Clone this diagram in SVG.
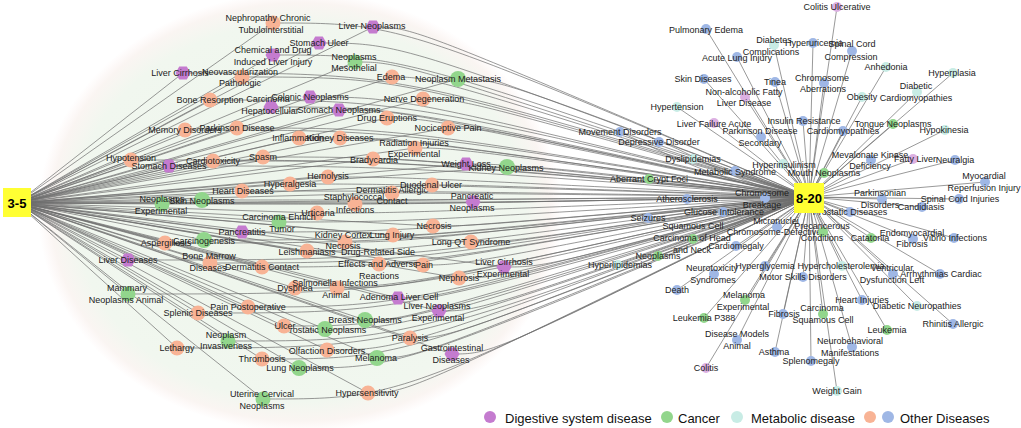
<svg xmlns="http://www.w3.org/2000/svg" xmlns:xlink="http://www.w3.org/1999/xlink" width="1021" height="428" viewBox="0 0 1021 428">
<style>
.e{fill:none;stroke:#6e6e6e;stroke-width:1;stroke-opacity:0.7}
.o{fill:#f8b395}.g{fill:#92d68c}.p{fill:#c47bcf}.pl{fill:#dcb0e2}.t{fill:#c8ece5}.b{fill:#9fb7e5}
text{font-family:"Liberation Sans",Arial,sans-serif;font-size:9px;fill:#222;text-anchor:middle;dominant-baseline:central}
.lg{font-size:13px;text-anchor:start;fill:#111}
.hub{fill:#ffff33}
.ht{font-size:13px;font-weight:bold;fill:#000}
</style>
<defs>
<radialGradient id="bg" cx="0.5" cy="0.5" r="0.5">
<stop offset="0" stop-color="#edf5eb"/>
<stop offset="0.86" stop-color="#f1f7ef"/>
<stop offset="0.95" stop-color="#faf5f2"/>
<stop offset="1" stop-color="#fdf4f3" stop-opacity="0"/>
</radialGradient>
<polygon id="hex" points="7.5,0 3.75,6.5 -3.75,6.5 -7.5,0 -3.75,-6.5 3.75,-6.5"/>
</defs>
<rect width="1021" height="428" fill="#fff"/>
<ellipse id="cluster-bg" cx="300" cy="212" rx="262" ry="220" fill="url(#bg)"/>
<g id="connectors">
<path class="e" d="M17 203C300 203 600 197 809 197"/>
<path class="e" d="M17 203L273 23"/><path class="e" d="M273 23C400 23 400 23 809 197"/>
<path class="e" d="M17 203L183 73"/><path class="e" d="M183 73C400 73 400 73 809 197"/>
<path class="e" d="M17 203L273 55"/><path class="e" d="M273 55C400 55 400 55 809 197"/>
<path class="e" d="M17 203L242 77"/><path class="e" d="M242 77C400 77 400 77 809 197"/>
<path class="e" d="M17 203L210 100"/><path class="e" d="M210 100C400 100 400 100 809 197"/>
<path class="e" d="M17 203L271 107"/><path class="e" d="M271 107C400 107 400 107 809 197"/>
<path class="e" d="M17 203L185 130"/><path class="e" d="M185 130C400 130 400 130 809 197"/>
<path class="e" d="M17 203L237 128"/><path class="e" d="M237 128C400 128 400 128 809 197"/>
<path class="e" d="M17 203L131 160"/><path class="e" d="M131 160C400 160 400 160 809 197"/>
<path class="e" d="M17 203L169 166"/><path class="e" d="M169 166C400 166 400 166 809 197"/>
<path class="e" d="M17 203L213 161"/><path class="e" d="M213 161C400 161 400 161 809 197"/>
<path class="e" d="M17 203L263 157"/><path class="e" d="M263 157C400 157 400 157 809 197"/>
<path class="e" d="M17 203L242 191"/><path class="e" d="M242 191C400 191 400 191 809 197"/>
<path class="e" d="M17 203L162 204"/><path class="e" d="M162 204C400 204 400 204 809 197"/>
<path class="e" d="M17 203L202 200"/><path class="e" d="M202 200C400 200 400 200 809 197"/>
<path class="e" d="M17 203L373 27"/><path class="e" d="M373 27C413 27 413 27 809 197"/>
<path class="e" d="M17 203L319 43"/><path class="e" d="M319 43C400 43 400 43 809 197"/>
<path class="e" d="M17 203L355 62"/><path class="e" d="M355 62C400 62 400 62 809 197"/>
<path class="e" d="M17 203L392 77"/><path class="e" d="M392 77C432 77 432 77 809 197"/>
<path class="e" d="M17 203L458 79"/><path class="e" d="M458 79C498 79 498 79 809 197"/>
<path class="e" d="M17 203L310 97"/><path class="e" d="M310 97C400 97 400 97 809 197"/>
<path class="e" d="M17 203L339 110"/><path class="e" d="M339 110C400 110 400 110 809 197"/>
<path class="e" d="M17 203L423 99"/><path class="e" d="M423 99C463 99 463 99 809 197"/>
<path class="e" d="M17 203L387 118"/><path class="e" d="M387 118C427 118 427 118 809 197"/>
<path class="e" d="M17 203L448 128"/><path class="e" d="M448 128C488 128 488 128 809 197"/>
<path class="e" d="M17 203L299 138"/><path class="e" d="M299 138C400 138 400 138 809 197"/>
<path class="e" d="M17 203L340 138"/><path class="e" d="M340 138C400 138 400 138 809 197"/>
<path class="e" d="M17 203L415 148"/><path class="e" d="M415 148C455 148 455 148 809 197"/>
<path class="e" d="M17 203L373 159"/><path class="e" d="M373 159C413 159 413 159 809 197"/>
<path class="e" d="M17 203L466 164"/><path class="e" d="M466 164C506 164 506 164 809 197"/>
<path class="e" d="M17 203L507 167"/><path class="e" d="M507 167C547 167 547 167 809 197"/>
<path class="e" d="M17 203L328 177"/><path class="e" d="M328 177C400 177 400 177 809 197"/>
<path class="e" d="M17 203L290 184"/><path class="e" d="M290 184C400 184 400 184 809 197"/>
<path class="e" d="M17 203L392 193"/><path class="e" d="M392 193C432 193 432 193 809 197"/>
<path class="e" d="M17 203L432 185"/><path class="e" d="M432 185C472 185 472 185 809 197"/>
<path class="e" d="M17 203L355 204"/><path class="e" d="M355 204C400 204 400 204 809 197"/>
<path class="e" d="M17 203L473 202"/><path class="e" d="M473 202C513 202 513 202 809 197"/>
<path class="e" d="M17 203L317 213"/><path class="e" d="M317 213C400 213 400 213 809 197"/>
<path class="e" d="M17 203L279 222"/><path class="e" d="M279 222C400 222 400 222 809 197"/>
<path class="e" d="M17 203L242 232"/><path class="e" d="M242 232C400 232 400 232 809 197"/>
<path class="e" d="M17 203L165 243"/><path class="e" d="M165 243C400 243 400 243 809 197"/>
<path class="e" d="M17 203L204 240"/><path class="e" d="M204 240C400 240 400 240 809 197"/>
<path class="e" d="M17 203L128 260"/><path class="e" d="M128 260C400 260 400 260 809 197"/>
<path class="e" d="M17 203L210 263"/><path class="e" d="M210 263C400 263 400 263 809 197"/>
<path class="e" d="M17 203L262 267"/><path class="e" d="M262 267C400 267 400 267 809 197"/>
<path class="e" d="M17 203L128 294"/><path class="e" d="M128 294C400 294 400 294 809 197"/>
<path class="e" d="M17 203L198 313"/><path class="e" d="M198 313C400 313 400 313 809 197"/>
<path class="e" d="M17 203L248 307"/><path class="e" d="M248 307C400 307 400 307 809 197"/>
<path class="e" d="M17 203L228 341"/><path class="e" d="M228 341C400 341 400 341 809 197"/>
<path class="e" d="M17 203L177 348"/><path class="e" d="M177 348C400 348 400 348 809 197"/>
<path class="e" d="M17 203L262 359"/><path class="e" d="M262 359C400 359 400 359 809 197"/>
<path class="e" d="M17 203L263 399"/><path class="e" d="M263 399C400 399 400 399 809 197"/>
<path class="e" d="M17 203L345 242"/><path class="e" d="M345 242C400 242 400 242 809 197"/>
<path class="e" d="M17 203L393 235"/><path class="e" d="M393 235C433 235 433 235 809 197"/>
<path class="e" d="M17 203L307 251"/><path class="e" d="M307 251C400 251 400 251 809 197"/>
<path class="e" d="M17 203L433 226"/><path class="e" d="M433 226C473 226 473 226 809 197"/>
<path class="e" d="M17 203L471 242"/><path class="e" d="M471 242C511 242 511 242 809 197"/>
<path class="e" d="M17 203L379 264"/><path class="e" d="M379 264C419 264 419 264 809 197"/>
<path class="e" d="M17 203L423 265"/><path class="e" d="M423 265C463 265 463 265 809 197"/>
<path class="e" d="M17 203L504 267"/><path class="e" d="M504 267C544 267 544 267 809 197"/>
<path class="e" d="M17 203L459 278"/><path class="e" d="M459 278C499 278 499 278 809 197"/>
<path class="e" d="M17 203L295 288"/><path class="e" d="M295 288C400 288 400 288 809 197"/>
<path class="e" d="M17 203L337 288"/><path class="e" d="M337 288C400 288 400 288 809 197"/>
<path class="e" d="M17 203L398 298"/><path class="e" d="M398 298C438 298 438 298 809 197"/>
<path class="e" d="M17 203L439 311"/><path class="e" d="M439 311C479 311 479 311 809 197"/>
<path class="e" d="M17 203L365 320"/><path class="e" d="M365 320C405 320 405 320 809 197"/>
<path class="e" d="M17 203L284 326"/><path class="e" d="M284 326C400 326 400 326 809 197"/>
<path class="e" d="M17 203L325 329"/><path class="e" d="M325 329C400 329 400 329 809 197"/>
<path class="e" d="M17 203L410 338"/><path class="e" d="M410 338C450 338 450 338 809 197"/>
<path class="e" d="M17 203L327 350"/><path class="e" d="M327 350C400 350 400 350 809 197"/>
<path class="e" d="M17 203L377 358"/><path class="e" d="M377 358C417 358 417 358 809 197"/>
<path class="e" d="M17 203L452 354"/><path class="e" d="M452 354C492 354 492 354 809 197"/>
<path class="e" d="M17 203L299 368"/><path class="e" d="M299 368C400 368 400 368 809 197"/>
<path class="e" d="M17 203L368 393"/><path class="e" d="M368 393C408 393 408 393 809 197"/>
<path class="e" d="M809 197L706 29"/><path class="e" d="M809 197L737 57"/><path class="e" d="M809 197L774 45"/>
<path class="e" d="M809 197L813 43"/><path class="e" d="M809 197L852 51"/><path class="e" d="M809 197L837 7"/>
<path class="e" d="M809 197L704 79"/><path class="e" d="M809 197L775 82"/><path class="e" d="M809 197L824 83"/>
<path class="e" d="M809 197L886 67"/><path class="e" d="M809 197L953 73"/><path class="e" d="M809 197L917 92"/>
<path class="e" d="M809 197L862 97"/><path class="e" d="M809 197L745 97"/><path class="e" d="M809 197L677 107"/>
<path class="e" d="M809 197L714 123"/><path class="e" d="M809 197L803 121"/><path class="e" d="M809 197L761 137"/>
<path class="e" d="M809 197L843 131"/><path class="e" d="M809 197L893 124"/><path class="e" d="M809 197L945 130"/>
<path class="e" d="M809 197C720 185 660 150 620 132"/><path class="e" d="M809 197C730 185 690 150 659 142"/><path class="e" d="M809 197L693 159"/>
<path class="e" d="M809 197L735 171"/><path class="e" d="M809 197L783 164"/><path class="e" d="M809 197L824 173"/>
<path class="e" d="M809 197L871 160"/><path class="e" d="M809 197L913 159"/><path class="e" d="M809 197L955 160"/>
<path class="e" d="M809 197L985 182"/><path class="e" d="M809 197L649 179"/><path class="e" d="M809 197L765 198"/>
<path class="e" d="M809 197L687 199"/><path class="e" d="M809 197L882 199"/><path class="e" d="M809 197L959 199"/>
<path class="e" d="M809 197L922 207"/><path class="e" d="M809 197L850 212"/><path class="e" d="M809 197L723 212"/>
<path class="e" d="M809 197L648 218"/><path class="e" d="M809 197L777 227"/><path class="e" d="M809 197L693 239"/>
<path class="e" d="M809 197L823 232"/><path class="e" d="M809 197L736 246"/><path class="e" d="M809 197L871 238"/>
<path class="e" d="M809 197L913 239"/><path class="e" d="M809 197L954 238"/><path class="e" d="M809 197L658 256"/>
<path class="e" d="M809 197L618 265"/><path class="e" d="M809 197L714 274"/><path class="e" d="M809 197L765 266"/>
<path class="e" d="M809 197L842 266"/><path class="e" d="M809 197L893 274"/><path class="e" d="M809 197L940 274"/>
<path class="e" d="M809 197L803 277"/><path class="e" d="M809 197L677 290"/><path class="e" d="M809 197L745 300"/>
<path class="e" d="M809 197L862 300"/><path class="e" d="M809 197L917 306"/><path class="e" d="M809 197L704 318"/>
<path class="e" d="M809 197L783 314"/><path class="e" d="M809 197L823 314"/><path class="e" d="M809 197L953 324"/>
<path class="e" d="M809 197L887 330"/><path class="e" d="M809 197L737 340"/><path class="e" d="M809 197L852 347"/>
<path class="e" d="M809 197L775 352"/><path class="e" d="M809 197L811 361"/><path class="e" d="M809 197L706 368"/>
<path class="e" d="M809 197L837 391"/>
</g>
<g id="n-nephropathy"><circle class="o" cx="273" cy="23" r="7.5"/><text x="268" y="18">Nephropathy Chronic</text><text x="271" y="30">Tubulointerstitial</text></g>
<g id="n-liver-cirrhosis"><use href="#hex" class="p" x="183" y="73"/><text x="180" y="73">Liver Cirrhosis</text></g>
<g id="n-chem-drug"><use href="#hex" class="p" x="273" y="55"/><text x="273" y="50">Chemical and Drug</text><text x="273" y="62">Induced Liver Injury</text></g>
<g id="n-neovasc"><circle class="o" cx="242" cy="77" r="7.5"/><text x="240" y="72">Neovascularization</text><text x="240" y="83">Pathologic</text></g>
<g id="n-bone-resorption"><circle class="o" cx="210" cy="100" r="7.5"/><text x="210" y="100">Bone Resorption</text></g>
<g id="n-hcc"><use href="#hex" class="p" x="271" y="107"/><text x="268" y="99">Carcinoma</text><text x="270" y="111">Hepatocellular</text></g>
<g id="n-memory"><circle class="o" cx="185" cy="130" r="7.5"/><text x="185" y="130">Memory Disorders</text></g>
<g id="n-parkinson-l"><circle class="o" cx="237" cy="128" r="7.5"/><text x="237" y="128">Parkinson Disease</text></g>
<g id="n-hypotension"><circle class="o" cx="131" cy="160" r="7.5"/><text x="131" y="158">Hypotension</text></g>
<g id="n-stomach-diseases"><use href="#hex" class="p" x="169" y="166"/><text x="169" y="166">Stomach Diseases</text></g>
<g id="n-cardiotox"><circle class="o" cx="213" cy="161" r="7.5"/><text x="213" y="161">Cardiotoxicity</text></g>
<g id="n-spasm"><circle class="o" cx="263" cy="157" r="7.5"/><text x="263" y="157">Spasm</text></g>
<g id="n-heart-diseases"><circle class="o" cx="242" cy="191" r="7.5"/><text x="243" y="191">Heart Diseases</text></g>
<g id="n-neoplasms-exp"><circle class="g" cx="162" cy="204" r="7.5"/><text x="162" y="199">Neoplasms</text><text x="161" y="211">Experimental</text></g>
<g id="n-skin-neoplasms"><circle class="g" cx="202" cy="200" r="8"/><text x="202" y="201">Skin Neoplasms</text></g>
<g id="n-liver-neoplasms"><use href="#hex" class="p" x="373" y="27"/><text x="372" y="26">Liver Neoplasms</text></g>
<g id="n-stomach-ulcer"><use href="#hex" class="p" x="319" y="43"/><text x="319" y="43">Stomach Ulcer</text></g>
<g id="n-neoplasms-meso"><circle class="g" cx="355" cy="62" r="7.5"/><text x="354" y="57">Neoplasms</text><text x="354" y="68">Mesothelial</text></g>
<g id="n-edema"><circle class="o" cx="392" cy="77" r="7.5"/><text x="391" y="77">Edema</text></g>
<g id="n-neo-metastasis"><circle class="g" cx="458" cy="79" r="8"/><text x="458" y="79">Neoplasm Metastasis</text></g>
<g id="n-colonic"><use href="#hex" class="p" x="310" y="97"/><text x="310" y="97">Colonic Neoplasms</text></g>
<g id="n-stomach-neo"><use href="#hex" class="p" x="339" y="110"/><text x="339" y="110">Stomach Neoplasms</text></g>
<g id="n-nerve-degen"><circle class="o" cx="423" cy="99" r="7.5"/><text x="424" y="99">Nerve Degeneration</text></g>
<g id="n-drug-eruptions"><circle class="o" cx="387" cy="118" r="7.5"/><text x="387" y="118">Drug Eruptions</text></g>
<g id="n-nociceptive"><circle class="o" cx="448" cy="128" r="7.5"/><text x="448" y="128">Nociceptive Pain</text></g>
<g id="n-inflammation"><circle class="o" cx="299" cy="138" r="7.5"/><text x="298" y="138">Inflammation</text></g>
<g id="n-kidney-diseases"><circle class="o" cx="340" cy="138" r="7.5"/><text x="340" y="138">Kidney Diseases</text></g>
<g id="n-radiation"><circle class="o" cx="415" cy="148" r="7.5"/><text x="414" y="143">Radiation Injuries</text><text x="414" y="154">Experimental</text></g>
<g id="n-bradycardia"><circle class="o" cx="373" cy="159" r="7.5"/><text x="374" y="160">Bradycardia</text></g>
<g id="n-weight-loss"><use href="#hex" class="p" x="466" y="164"/><text x="466" y="164">Weight Loss</text></g>
<g id="n-kidney-neo"><circle class="g" cx="507" cy="167" r="8"/><text x="506" y="168">Kidney Neoplasms</text></g>
<g id="n-hemolysis"><circle class="o" cx="328" cy="177" r="7.5"/><text x="328" y="176">Hemolysis</text></g>
<g id="n-hyperalgesia"><circle class="o" cx="290" cy="184" r="7.5"/><text x="290" y="184">Hyperalgesia</text></g>
<g id="n-dermatitis-allergic"><circle class="o" cx="392" cy="193" r="7.5"/><text x="392" y="190">Dermatitis Allergic</text><text x="392" y="201">Contact</text></g>
<g id="n-duodenal"><circle class="o" cx="432" cy="185" r="7.5"/><text x="431" y="185">Duodenal Ulcer</text></g>
<g id="n-staph"><circle class="o" cx="355" cy="204" r="7.5"/><text x="354" y="197">Staphylococcal</text><text x="355" y="210">Infections</text></g>
<g id="n-pancreatic-neo"><use href="#hex" class="p" x="473" y="202"/><text x="472" y="196">Pancreatic</text><text x="472" y="208">Neoplasms</text></g>
<g id="n-urticaria"><circle class="o" cx="317" cy="213" r="7.5"/><text x="318" y="213">Urticaria</text></g>
<g id="n-carcinoma-ehrlich"><circle class="g" cx="279" cy="222" r="7.5"/><text x="279" y="217">Carcinoma Ehrlich</text><text x="282" y="229">Tumor</text></g>
<g id="n-pancreatitis"><use href="#hex" class="p" x="242" y="232"/><text x="242" y="232">Pancreatitis</text></g>
<g id="n-aspergillosis"><circle class="o" cx="165" cy="243" r="7.5"/><text x="166" y="243">Aspergillosis</text></g>
<g id="n-carcinogenesis"><circle class="g" cx="204" cy="240" r="8"/><text x="204" y="241">Carcinogenesis</text></g>
<g id="n-liver-diseases"><use href="#hex" class="p" x="128" y="260"/><text x="128" y="260">Liver Diseases</text></g>
<g id="n-bone-marrow"><circle class="o" cx="210" cy="263" r="7.5"/><text x="209" y="256">Bone Marrow</text><text x="208" y="268">Diseases</text></g>
<g id="n-dermatitis-contact"><circle class="o" cx="262" cy="267" r="7.5"/><text x="262" y="267">Dermatitis Contact</text></g>
<g id="n-mammary"><circle class="g" cx="128" cy="294" r="7.5"/><text x="127" y="288">Mammary</text><text x="126" y="300">Neoplasms Animal</text></g>
<g id="n-splenic"><circle class="o" cx="198" cy="313" r="7.5"/><text x="198" y="313">Splenic Diseases</text></g>
<g id="n-pain-postop"><circle class="o" cx="248" cy="307" r="7.5"/><text x="248" y="307">Pain Postoperative</text></g>
<g id="n-neoplasm-invasive"><circle class="g" cx="228" cy="341" r="7.5"/><text x="226" y="335">Neoplasm</text><text x="226" y="346">Invasiveness</text></g>
<g id="n-lethargy"><circle class="o" cx="177" cy="348" r="7.5"/><text x="177" y="348">Lethargy</text></g>
<g id="n-thrombosis"><circle class="o" cx="262" cy="359" r="7.5"/><text x="262" y="359">Thrombosis</text></g>
<g id="n-uterine"><circle class="g" cx="263" cy="399" r="7.5"/><text x="262" y="394">Uterine Cervical</text><text x="262" y="406">Neoplasms</text></g>
<g id="n-kidney-cortex"><circle class="o" cx="345" cy="242" r="7.5"/><text x="343" y="235">Kidney Cortex</text><text x="343" y="246">Necrosis</text></g>
<g id="n-lung-injury"><circle class="o" cx="393" cy="235" r="7.5"/><text x="392" y="235">Lung Injury</text></g>
<g id="n-leishmaniasis"><circle class="o" cx="307" cy="251" r="7.5"/><text x="307" y="252">Leishmaniasis</text></g>
<g id="n-necrosis"><circle class="o" cx="433" cy="226" r="7.5"/><text x="434" y="226">Necrosis</text></g>
<g id="n-long-qt"><circle class="o" cx="471" cy="242" r="7.5"/><text x="471" y="242">Long QT Syndrome</text></g>
<g id="n-drug-related"><circle class="o" cx="379" cy="264" r="7.5"/><text x="378" y="252">Drug-Related Side</text><text x="378" y="264">Effects and Adverse</text><text x="379" y="276">Reactions</text></g>
<g id="n-pain"><circle class="o" cx="423" cy="265" r="7.5"/><text x="424" y="265">Pain</text></g>
<g id="n-liver-cirrhosis-exp"><use href="#hex" class="p" x="504" y="267"/><text x="504" y="262">Liver Cirrhosis</text><text x="503" y="274">Experimental</text></g>
<g id="n-nephrosis"><circle class="o" cx="459" cy="278" r="7.5"/><text x="459" y="278">Nephrosis</text></g>
<g id="n-dyspnea"><circle class="o" cx="295" cy="288" r="7.5"/><text x="295" y="288">Dyspnea</text></g>
<g id="n-salmonella"><circle class="o" cx="337" cy="288" r="7.5"/><text x="335" y="283">Salmonella Infections</text><text x="336" y="295">Animal</text></g>
<g id="n-adenoma"><use href="#hex" class="p" x="398" y="298"/><text x="399" y="297">Adenoma Liver Cell</text></g>
<g id="n-liver-neo-exp"><use href="#hex" class="p" x="439" y="311"/><text x="437" y="306">Liver Neoplasms</text><text x="438" y="318">Experimental</text></g>
<g id="n-breast"><circle class="g" cx="365" cy="320" r="8"/><text x="365" y="320">Breast Neoplasms</text></g>
<g id="n-prostatic-neo"><circle class="g" cx="325" cy="329" r="8"/><text x="325" y="330">Prostatic Neoplasms</text></g>
<g id="n-ulcer"><circle class="o" cx="284" cy="326" r="7.5"/><text x="285" y="326">Ulcer</text></g>
<g id="n-paralysis"><circle class="o" cx="410" cy="338" r="7.5"/><text x="410" y="338">Paralysis</text></g>
<g id="n-olfaction"><circle class="o" cx="327" cy="350" r="7.5"/><text x="327" y="351">Olfaction Disorders</text></g>
<g id="n-melanoma"><circle class="g" cx="377" cy="358" r="8"/><text x="376" y="358">Melanoma</text></g>
<g id="n-gi-diseases"><use href="#hex" class="p" x="452" y="354"/><text x="452" y="348">Gastrointestinal</text><text x="451" y="360">Diseases</text></g>
<g id="n-lung-neo"><circle class="g" cx="299" cy="368" r="8"/><text x="300" y="368">Lung Neoplasms</text></g>
<g id="n-hypersensitivity"><circle class="o" cx="368" cy="393" r="7.5"/><text x="367" y="393">Hypersensitivity</text></g>
<g id="n-pulmonary-edema"><circle class="b" cx="706" cy="29" r="5"/><text x="706" y="30">Pulmonary Edema</text></g>
<g id="n-acute-lung"><circle class="b" cx="737" cy="57" r="5"/><text x="737" y="58">Acute Lung Injury</text></g>
<g id="n-diabetes-comp"><circle class="t" cx="774" cy="45" r="5"/><text x="774" y="40">Diabetes</text><text x="771" y="52">Complications</text></g>
<g id="n-hyperuricemia"><circle class="b" cx="813" cy="43" r="5"/><text x="814" y="43">Hyperuricemia</text></g>
<g id="n-spinal-comp"><circle class="b" cx="852" cy="51" r="5"/><text x="852" y="44">Spinal Cord</text><text x="851" y="57">Compression</text></g>
<g id="n-colitis-ulc"><circle class="pl" cx="837" cy="7" r="5"/><text x="837" y="7">Colitis Ulcerative</text></g>
<g id="n-skin-diseases"><circle class="b" cx="704" cy="79" r="5"/><text x="703" y="79">Skin Diseases</text></g>
<g id="n-tinea"><circle class="b" cx="775" cy="82" r="5"/><text x="775" y="82">Tinea</text></g>
<g id="n-chrom-aberr"><circle class="b" cx="824" cy="83" r="5"/><text x="822" y="78">Chromosome</text><text x="823" y="89">Aberrations</text></g>
<g id="n-anhedonia"><circle class="t" cx="886" cy="67" r="5"/><text x="886" y="67">Anhedonia</text></g>
<g id="n-hyperplasia"><circle class="t" cx="953" cy="73" r="5"/><text x="952" y="73">Hyperplasia</text></g>
<g id="n-diabetic-cardio"><circle class="t" cx="917" cy="92" r="5"/><text x="916" y="86">Diabetic</text><text x="916" y="98">Cardiomyopathies</text></g>
<g id="n-obesity"><circle class="t" cx="862" cy="97" r="5"/><text x="862" y="97">Obesity</text></g>
<g id="n-nafld"><circle class="pl" cx="745" cy="97" r="5"/><text x="744" y="92">Non-alcoholic Fatty</text><text x="744" y="103">Liver Disease</text></g>
<g id="n-hypertension"><circle class="t" cx="677" cy="107" r="5"/><text x="677" y="107">Hypertension</text></g>
<g id="n-liver-failure"><circle class="pl" cx="714" cy="123" r="5"/><text x="714" y="124">Liver Failure Acute</text></g>
<g id="n-insulin-res"><circle class="b" cx="803" cy="121" r="5"/><text x="804" y="121">Insulin Resistance</text></g>
<g id="n-parkinson-sec"><circle class="b" cx="761" cy="137" r="5"/><text x="760" y="131">Parkinson Disease</text><text x="760" y="143">Secondary</text></g>
<g id="n-cardiomyopathies"><circle class="b" cx="843" cy="131" r="5"/><text x="843" y="131">Cardiomyopathies</text></g>
<g id="n-tongue-neo"><circle class="g" cx="893" cy="124" r="5"/><text x="893" y="124">Tongue Neoplasms</text></g>
<g id="n-hypokinesia"><circle class="t" cx="945" cy="130" r="5"/><text x="944" y="130">Hypokinesia</text></g>
<g id="n-movement"><circle class="b" cx="620" cy="132" r="5"/><text x="620" y="132">Movement Disorders</text></g>
<g id="n-depressive"><circle class="b" cx="659" cy="142" r="5"/><text x="659" y="142">Depressive Disorder</text></g>
<g id="n-dyslipidemias"><circle class="t" cx="693" cy="159" r="5"/><text x="693" y="159">Dyslipidemias</text></g>
<g id="n-metabolic-syn"><circle class="b" cx="735" cy="171" r="5"/><text x="735" y="172">Metabolic Syndrome</text></g>
<g id="n-hyperinsulinism"><circle class="t" cx="783" cy="164" r="5"/><text x="784" y="165">Hyperinsulinism</text></g>
<g id="n-mouth-neo"><circle class="g" cx="824" cy="173" r="5"/><text x="824" y="173">Mouth Neoplasms</text></g>
<g id="n-mevalonate"><circle class="b" cx="871" cy="160" r="5"/><text x="870" y="155">Mevalonate Kinase</text><text x="870" y="166">Deficiency</text></g>
<g id="n-fatty-liver"><circle class="pl" cx="913" cy="159" r="5"/><text x="915" y="159">Fatty Liver</text></g>
<g id="n-neuralgia"><circle class="b" cx="955" cy="160" r="5"/><text x="955" y="160">Neuralgia</text></g>
<g id="n-myocardial"><circle class="b" cx="985" cy="182" r="5"/><text x="984" y="176">Myocardial</text><text x="984" y="188">Reperfusion Injury</text></g>
<g id="n-aberrant"><circle class="g" cx="649" cy="179" r="5"/><text x="649" y="179">Aberrant Crypt Foci</text></g>
<g id="n-chrom-breakage"><circle class="b" cx="765" cy="198" r="5"/><text x="762" y="193">Chromosome</text><text x="762" y="205">Breakage</text></g>
<g id="n-atherosclerosis"><circle class="b" cx="687" cy="199" r="5"/><text x="687" y="199">Atherosclerosis</text></g>
<g id="n-parkinsonian"><circle class="b" cx="882" cy="199" r="5"/><text x="880" y="193">Parkinsonian</text><text x="880" y="205">Disorders</text></g>
<g id="n-spinal-inj"><circle class="b" cx="959" cy="199" r="5"/><text x="960" y="199">Spinal Cord Injuries</text></g>
<g id="n-candidiasis"><circle class="b" cx="922" cy="207" r="5"/><text x="921" y="207">Candidiasis</text></g>
<g id="n-prostatic-dis"><circle class="b" cx="850" cy="212" r="5"/><text x="850" y="212">Prostatic Diseases</text></g>
<g id="n-glucose"><circle class="b" cx="723" cy="212" r="5"/><text x="724" y="212">Glucose Intolerance</text></g>
<g id="n-seizures"><circle class="b" cx="648" cy="218" r="5"/><text x="648" y="218">Seizures</text></g>
<g id="n-micronuclei"><circle class="b" cx="777" cy="227" r="5"/><text x="776" y="221">Micronuclei</text><text x="774" y="232">Chromosome-Defective</text></g>
<g id="n-scc-head"><circle class="g" cx="693" cy="239" r="5"/><text x="693" y="226">Squamous Cell</text><text x="692" y="238">Carcinoma of Head</text><text x="692" y="250">and Neck</text></g>
<g id="n-precancerous"><circle class="g" cx="823" cy="232" r="5"/><text x="822" y="226">Precancerous</text><text x="822" y="238">Conditions</text></g>
<g id="n-cardiomegaly"><circle class="b" cx="736" cy="246" r="5"/><text x="736" y="246">Cardiomegaly</text></g>
<g id="n-catatonia"><circle class="g" cx="871" cy="238" r="5"/><text x="870" y="238">Catatonia</text></g>
<g id="n-endomyo"><circle class="b" cx="913" cy="239" r="5"/><text x="912" y="233">Endomyocardial</text><text x="912" y="244">Fibrosis</text></g>
<g id="n-vibrio"><circle class="b" cx="954" cy="238" r="5"/><text x="955" y="238">Vibrio Infections</text></g>
<g id="n-neoplasms-r"><circle class="g" cx="658" cy="256" r="5"/><text x="658" y="256">Neoplasms</text></g>
<g id="n-hyperlipidemias"><circle class="t" cx="618" cy="265" r="5"/><text x="620" y="265">Hyperlipidemias</text></g>
<g id="n-neurotox"><circle class="b" cx="714" cy="274" r="5"/><text x="712" y="268">Neurotoxicity</text><text x="713" y="280">Syndromes</text></g>
<g id="n-hyperglycemia"><circle class="b" cx="765" cy="266" r="5"/><text x="765" y="266">Hyperglycemia</text></g>
<g id="n-hypercholest"><circle class="t" cx="842" cy="266" r="5"/><text x="841" y="266">Hypercholesterolemia</text></g>
<g id="n-ventricular"><circle class="b" cx="893" cy="274" r="5"/><text x="892" y="268">Ventricular</text><text x="892" y="280">Dysfunction Left</text></g>
<g id="n-arrhythmias"><circle class="b" cx="940" cy="274" r="5"/><text x="941" y="274">Arrhythmias Cardiac</text></g>
<g id="n-motor-skills"><circle class="b" cx="803" cy="277" r="5"/><text x="803" y="277">Motor Skills Disorders</text></g>
<g id="n-death"><circle class="b" cx="677" cy="290" r="5"/><text x="677" y="290">Death</text></g>
<g id="n-melanoma-exp"><circle class="g" cx="745" cy="300" r="5"/><text x="744" y="295">Melanoma</text><text x="743" y="307">Experimental</text></g>
<g id="n-heart-injuries"><circle class="b" cx="862" cy="300" r="5"/><text x="862" y="300">Heart Injuries</text></g>
<g id="n-diabetic-neuro"><circle class="t" cx="917" cy="306" r="5"/><text x="917" y="306">Diabetic Neuropathies</text></g>
<g id="n-leukemia-p388"><circle class="g" cx="704" cy="318" r="5"/><text x="704" y="318">Leukemia P388</text></g>
<g id="n-fibrosis-r"><circle class="b" cx="783" cy="314" r="5"/><text x="784" y="314">Fibrosis</text></g>
<g id="n-carcinoma-sq"><circle class="g" cx="823" cy="314" r="5"/><text x="822" y="308">Carcinoma</text><text x="823" y="320">Squamous Cell</text></g>
<g id="n-rhinitis"><circle class="b" cx="953" cy="324" r="5"/><text x="953" y="324">Rhinitis Allergic</text></g>
<g id="n-leukemia"><circle class="g" cx="887" cy="330" r="5"/><text x="887" y="330">Leukemia</text></g>
<g id="n-disease-models"><circle class="b" cx="737" cy="340" r="5"/><text x="737" y="334">Disease Models</text><text x="737" y="346">Animal</text></g>
<g id="n-neurobehav"><circle class="b" cx="852" cy="347" r="5"/><text x="850" y="341">Neurobehavioral</text><text x="850" y="353">Manifestations</text></g>
<g id="n-asthma"><circle class="b" cx="775" cy="352" r="5"/><text x="774" y="352">Asthma</text></g>
<g id="n-splenomegaly"><circle class="b" cx="811" cy="361" r="5"/><text x="811" y="361">Splenomegaly</text></g>
<g id="n-colitis"><circle class="pl" cx="706" cy="368" r="5"/><text x="706" y="368">Colitis</text></g>
<g id="n-weight-gain"><circle class="t" cx="837" cy="391" r="5"/><text x="837" y="391">Weight Gain</text></g>
<g id="hub-3-5"><rect class="hub" x="3" y="188" width="28" height="29"/><text class="ht" x="17" y="203">3-5</text></g>
<g id="hub-8-20"><rect class="hub" x="794" y="183" width="30" height="30"/><text class="ht" x="809" y="198">8-20</text></g>
<g id="legend">
<circle class="p" cx="490" cy="417" r="6"/><text class="lg" x="505" y="418">Digestive system disease</text>
<circle class="g" cx="667" cy="417" r="6"/><text class="lg" x="678" y="418">Cancer</text>
<circle class="t" cx="737" cy="417" r="6"/><text class="lg" x="751" y="418">Metabolic disease</text>
<circle class="o" cx="870" cy="417" r="6"/><circle class="b" cx="888" cy="417" r="6"/><text class="lg" x="900" y="418">Other Diseases</text>
</g>
</svg>
